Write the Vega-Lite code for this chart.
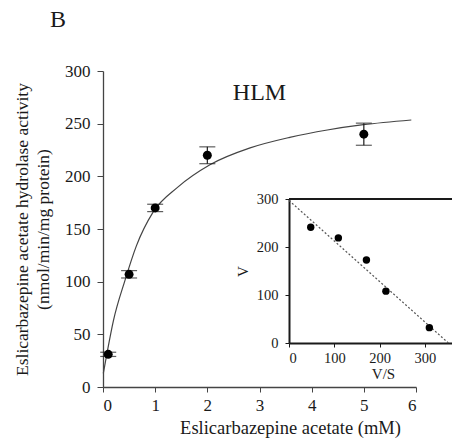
{
  "$schema": "https://vega.github.io/schema/vega-lite/v6.json",
  "autosize": {"type": "none"},
  "width": 313,
  "height": 316,
  "padding": {"left": 103, "top": 71, "right": 36, "bottom": 56},
  "background": "white",
  "config": {
    "view": {"stroke": null},
    "font": "Liberation Serif",
    "axis": {"grid": false, "labelFont": "Liberation Serif", "titleFont": "Liberation Serif", "labelColor": "#1a1a1a", "titleColor": "#1a1a1a", "titleFontWeight": "normal", "domainColor": "#444", "tickColor": "#444"}
  },
  "datasets": {
    "obs": [
      {"s": 0.1, "v": 31, "lo": 29, "hi": 33},
      {"s": 0.5, "v": 107, "lo": 103.5, "hi": 110.5},
      {"s": 1.0, "v": 170, "lo": 166.5, "hi": 173.5},
      {"s": 2.0, "v": 220, "lo": 212, "hi": 228},
      {"s": 5.0, "v": 240, "lo": 229.5, "hi": 250.5}
    ],
    "curve": [
      {"s": 0.006, "v": 13},
      {"s": 0.08, "v": 33},
      {"s": 0.2, "v": 63},
      {"s": 0.42, "v": 101},
      {"s": 0.64, "v": 134},
      {"s": 0.96, "v": 166},
      {"s": 1.44, "v": 190},
      {"s": 2.05, "v": 211},
      {"s": 2.82, "v": 227},
      {"s": 3.58, "v": 237},
      {"s": 4.3, "v": 244},
      {"s": 4.99, "v": 249},
      {"s": 5.91, "v": 253.5}
    ],
    "eh": [
      {"vs": 48, "v": 241},
      {"vs": 109, "v": 219},
      {"vs": 171, "v": 173},
      {"vs": 214, "v": 108},
      {"vs": 310, "v": 32}
    ],
    "fit": [
      {"vs": 0, "v": 297},
      {"vs": 352, "v": 0}
    ],
    "frame": [
      {"vs": 0, "vs2": 360, "v": 300}
    ]
  },
  "title": {"text": "B", "anchor": "start", "frame": "group", "dx": -53, "offset": 30, "fontSize": 24, "font": "Liberation Serif", "fontWeight": "normal", "color": "#1a1a1a"},
  "resolve": {"scale": {"x": "independent", "y": "independent"}, "axis": {"x": "independent", "y": "independent"}},
  "layer": [
    {
      "encoding": {
        "x": {"field": "s", "type": "quantitative", "title": "Eslicarbazepine acetate (mM)", "scale": {"domain": [0, 6], "nice": false},
          "axis": {"orient": "bottom", "values": [0, 1, 2, 3, 4, 5, 6], "labelFont": "Liberation Serif", "titleFont": "Liberation Serif", "titleFontSize": 18.5, "labelFontSize": 17, "tickSize": 5, "labelPadding": 5, "titleX": 187, "titlePadding": 5, "domainWidth": 1.3}},
        "y": {"field": "v", "type": "quantitative", "title": ["Eslicarbazepine acetate hydrolase activity", "(nmol/min/mg protein)"], "scale": {"domain": [0, 300], "nice": false},
          "axis": {"orient": "left", "values": [0, 50, 100, 150, 200, 250, 300], "labelFont": "Liberation Serif", "titleFont": "Liberation Serif", "titleFontSize": 17.5, "titleLineHeight": 21, "labelFontSize": 17, "tickSize": 6, "labelPadding": 7, "titlePadding": 12, "domainWidth": 1.3}}
      },
      "layer": [
        {
          "data": {"name": "curve"},
          "mark": {"type": "line", "color": "#444", "strokeWidth": 1.2, "interpolate": "monotone"}
        },
        {
          "data": {"name": "obs"},
          "mark": {"type": "errorbar", "ticks": {"size": 16, "thickness": 1.2, "color": "#1a1a1a"}, "rule": {"color": "#1a1a1a", "strokeWidth": 1.2}},
          "encoding": {
            "y": {"field": "lo", "type": "quantitative", "title": ["Eslicarbazepine acetate hydrolase activity", "(nmol/min/mg protein)"]},
            "y2": {"field": "hi"}
          }
        },
        {
          "data": {"name": "obs"},
          "mark": {"type": "point", "filled": true, "color": "#000", "size": 80, "opacity": 1}
        },
        {
          "data": {"values": [{"label": "HLM", "s": 3.0, "v": 279}]},
          "mark": {"type": "text", "fontSize": 24, "font": "Liberation Serif", "color": "#1a1a1a"},
          "encoding": {"text": {"field": "label"}}
        }
      ]
    },
    {
      "encoding": {
        "x": {"field": "vs", "type": "quantitative", "title": "V/S", "scale": {"domain": [0, 360], "nice": false, "range": [186, 349]},
          "axis": {"orient": "bottom", "offset": -44, "values": [0, 100, 200, 300], "labelFont": "Liberation Serif", "titleFont": "Liberation Serif", "titleFontSize": 15, "labelFontSize": 14.5, "tickSize": 4, "labelPadding": 4, "titlePadding": 2, "titleX": 280, "domainWidth": 2, "domainColor": "#1a1a1a", "tickColor": "#1a1a1a"}},
        "y": {"field": "v", "type": "quantitative", "title": "V", "scale": {"domain": [0, 300], "nice": false, "range": [272, 128]},
          "axis": {"orient": "left", "offset": -186, "values": [0, 100, 200, 300], "labelFont": "Liberation Serif", "titleFont": "Liberation Serif", "titleFontSize": 15, "labelFontSize": 14.5, "tickSize": 4, "labelPadding": 7, "titlePadding": 6, "domainWidth": 2, "domainColor": "#1a1a1a", "tickColor": "#1a1a1a"}}
      },
      "layer": [
        {
          "data": {"name": "fit"},
          "mark": {"type": "line", "color": "#555", "strokeWidth": 1.2, "strokeDash": [2, 2]}
        },
        {
          "data": {"name": "frame"},
          "mark": {"type": "rule", "color": "#1a1a1a", "strokeWidth": 2},
          "encoding": {"x2": {"field": "vs2"}}
        },
        {
          "data": {"name": "eh"},
          "mark": {"type": "point", "filled": true, "color": "#000", "size": 55, "opacity": 1}
        }
      ]
    }
  ]
}
